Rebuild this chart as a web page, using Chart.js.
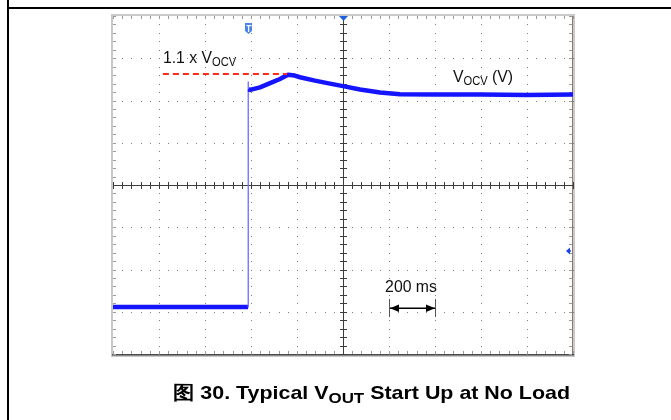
<!DOCTYPE html>
<html><head><meta charset="utf-8">
<script src="https://cdn.jsdelivr.net/npm/chart.js@4/dist/chart.umd.min.js"></script>
<style>
html,body{margin:0;padding:0;background:#fff;}
#wrap{position:relative;width:671px;height:420px;overflow:hidden;background:#fff;}
#c{position:absolute;left:0;top:0;}
.hl{position:absolute;left:7px;top:7px;width:664px;height:2px;background:#000;}
.vl{position:absolute;left:7px;top:0;width:2px;height:420px;background:#000;}
#title{position:absolute;left:173px;top:380px;white-space:nowrap;font:bold 19px "Liberation Sans",Arial,sans-serif;color:#000;transform-origin:0 0;}
#title .sub{font-size:15px;position:relative;top:4px;}
</style></head>
<body><div id="wrap">
<canvas id="c" width="671" height="420"></canvas>
<div class="hl"></div><div class="vl"></div>
<div id="title">图 30. Typical V<span class="sub">OUT</span> Start Up at No Load</div>
</div>
<script>
// time in ms (200 ms/div, trigger at centre), level in screen divisions
const timeMs   = [-1000, -413, -413, -411, -404, -361, -317, -274, -239, -210, -187, -122, -57, 0, 74, 161, 248, 400, 600, 800, 1000];
const voutDiv  = [-2.89, -2.89, 2.44, 2.27, 2.25, 2.31, 2.41, 2.51, 2.61, 2.59, 2.55, 2.47, 2.40, 2.34, 2.26, 2.19, 2.15, 2.14, 2.14, 2.13, 2.14];
const refTimeMs = [-783, -243];
const refDiv    = [2.63, 2.63];
const xTicksMs  = [-1000, -800, -600, -400, -200, 0, 200, 400, 600, 800, 1000];
const yTicksDiv = [-4, -3, -2, -1, 0, 1, 2, 3, 4];
const scaleBarMs = [200, 400];
const labelMain1 = "1.1 x V", labelSub1 = "OCV";
const labelMain2 = "V", labelSub2 = "OCV", labelTail2 = " (V)";
const labelScale = "200 ms";

const trace = timeMs.map((t, i) => ({x: t, y: voutDiv[i]}));
const ref = refTimeMs.map((t, i) => ({x: t, y: refDiv[i]}));

const graticule = {
  id: 'graticule',
  beforeDatasetsDraw(chart) {
    const {ctx, chartArea: a, scales: {x, y}} = chart;
    ctx.save();
    ctx.fillStyle = '#c9c9c9';
    ctx.fillRect(a.left - 2, a.top - 2, a.right - a.left + 4, a.bottom - a.top + 5);
    ctx.fillStyle = '#fff';
    ctx.fillRect(a.left, a.top, a.right - a.left, a.bottom - a.top);
    ctx.fillStyle = '#4a4a4a';
    ctx.fillRect(a.left - 1, Math.round(a.bottom), a.right - a.left + 2, 1.5);
    ctx.fillStyle = '#8a7a70';
    ctx.fillRect(Math.round(a.right) - 1, a.top, 1, a.bottom - a.top);

    const minorX = [], minorY = [];
    for (let i = 0; i < xTicksMs.length - 1; i++) for (let k = 0; k < 5; k++) minorX.push(xTicksMs[i] + (xTicksMs[i+1] - xTicksMs[i]) * k / 5);
    minorX.push(xTicksMs[xTicksMs.length - 1]);
    for (let i = 0; i < yTicksDiv.length - 1; i++) for (let k = 0; k < 5; k++) minorY.push(yTicksDiv[i] + (yTicksDiv[i+1] - yTicksDiv[i]) * k / 5);
    minorY.push(yTicksDiv[yTicksDiv.length - 1]);

    ctx.fillStyle = '#7d7d7d';
    xTicksMs.slice(1, -1).forEach(t => {
      if (t === 0) return;
      const px = Math.round(x.getPixelForValue(t));
      minorY.forEach(v => ctx.fillRect(px, Math.round(y.getPixelForValue(v)), 1, 1));
    });
    yTicksDiv.slice(1, -1).forEach(v => {
      if (v === 0) return;
      const py = Math.round(y.getPixelForValue(v));
      minorX.forEach(t => ctx.fillRect(Math.round(x.getPixelForValue(t)), py, 1, 1));
    });

    ctx.fillStyle = '#9a9a9a';
    minorX.forEach(t => {
      const px = Math.round(x.getPixelForValue(t));
      ctx.fillRect(px, a.top, 1, 3);
      ctx.fillRect(px, a.bottom - 3, 1, 3);
    });
    minorY.forEach(v => {
      const py = Math.round(y.getPixelForValue(v));
      ctx.fillRect(a.left, py, 3, 1);
      ctx.fillRect(a.right - 4, py, 3, 1);
    });

    const cx = Math.round(x.getPixelForValue(0));
    const cy = Math.round(y.getPixelForValue(0));
    ctx.fillStyle = '#3c3c3c';
    ctx.fillRect(cx, a.top, 1, a.bottom - a.top);
    ctx.fillRect(a.left, cy, a.right - a.left, 1);
    minorY.forEach(v => ctx.fillRect(cx - 3, Math.round(y.getPixelForValue(v)), 7, 1));
    minorX.forEach(t => ctx.fillRect(Math.round(x.getPixelForValue(t)), cy - 3, 1, 7));
    ctx.restore();
  },
  afterDatasetsDraw(chart) {
    const {ctx, chartArea: a, scales: {x, y}} = chart;
    ctx.save();
    const font = s => s + 'px "Liberation Sans", Arial, sans-serif';
    ctx.fillStyle = '#111';
    ctx.textBaseline = 'alphabetic';
    const sx = 0.93;
    const txt = (s, px, py, size) => {
      ctx.save(); ctx.translate(px, py); ctx.scale(sx, 1);
      ctx.font = font(size); ctx.fillText(s, 0, 0);
      const w = ctx.measureText(s).width * sx; ctx.restore(); return w;
    };
    let lx = x.getPixelForValue(-783), ly = y.getPixelForValue(2.89);
    lx += txt(labelMain1, lx, ly, 17);
    txt(labelSub1, lx, ly + 3, 12);
    lx = x.getPixelForValue(478); ly = y.getPixelForValue(2.44);
    lx += txt(labelMain2, lx, ly, 17);
    lx += txt(labelSub2, lx, ly + 3, 12);
    txt(labelTail2, lx, ly, 17);
    lx = x.getPixelForValue(183); ly = y.getPixelForValue(-2.53);
    txt(labelScale, lx, ly, 17);

    const x1 = Math.round(x.getPixelForValue(scaleBarMs[0])), x2 = Math.round(x.getPixelForValue(scaleBarMs[1]));
    const ay = Math.round(y.getPixelForValue(-2.91));
    ctx.fillStyle = '#555';
    ctx.fillRect(x1, ay - 9, 1, 18);
    ctx.fillRect(x2, ay - 9, 1, 18);
    ctx.fillStyle = '#000';
    ctx.fillRect(x1 + 1, ay - 0.5, x2 - x1 - 1, 1.5);
    ctx.beginPath(); ctx.moveTo(x1 + 1, ay + 0.25); ctx.lineTo(x1 + 10, ay - 3.5); ctx.lineTo(x1 + 10, ay + 4); ctx.closePath(); ctx.fill();
    ctx.beginPath(); ctx.moveTo(x2, ay + 0.25); ctx.lineTo(x2 - 9, ay - 3.5); ctx.lineTo(x2 - 9, ay + 4); ctx.closePath(); ctx.fill();

    const cx = x.getPixelForValue(0);
    ctx.fillStyle = '#1f5fd8';
    ctx.beginPath(); ctx.moveTo(cx - 4, a.top); ctx.lineTo(cx + 5, a.top); ctx.lineTo(cx + 0.5, a.top + 5); ctx.closePath(); ctx.fill();
    const tx = Math.round(x.getPixelForValue(-413));
    ctx.fillStyle = '#4a86e8';
    ctx.beginPath();
    ctx.moveTo(tx - 3, a.top + 7); ctx.lineTo(tx + 4, a.top + 7); ctx.lineTo(tx + 4, a.top + 15);
    ctx.lineTo(tx + 0.5, a.top + 18); ctx.lineTo(tx - 3, a.top + 15); ctx.closePath(); ctx.fill();
    ctx.fillStyle = '#fff';
    ctx.fillRect(tx - 1.5, a.top + 9, 5, 1.2);
    ctx.fillRect(tx, a.top + 9, 1.2, 7);
    const gy = y.getPixelForValue(-1.56);
    ctx.fillStyle = '#1f3fe8';
    ctx.beginPath(); ctx.moveTo(a.right - 7, gy); ctx.lineTo(a.right - 3, gy - 3.5); ctx.lineTo(a.right - 3, gy + 3.5); ctx.closePath(); ctx.fill();
    ctx.fillRect(a.right - 4, gy - 0.7, 2, 1.4);
    ctx.restore();
  }
};

new Chart(document.getElementById('c'), {
  type: 'line',
  data: {
    datasets: [
      {
        data: ref, borderColor: '#ff2a1a', borderWidth: 2, borderDash: [6, 4],
        pointRadius: 0, order: 1
      },
      {
        data: trace, borderColor: '#1414ff', borderWidth: 4.5, pointRadius: 0, tension: 0,
        borderJoinStyle: 'round', order: 2,
        segment: {
          borderWidth: c => (c.p0DataIndex === 1 || c.p0DataIndex === 2) ? 1.3 : undefined,
          borderColor: c => (c.p0DataIndex === 1 || c.p0DataIndex === 2) ? '#6c6cff' : undefined
        }
      }
    ]
  },
  options: {
    responsive: false, animation: false, devicePixelRatio: 1,
    layout: {padding: {left: 113, right: 98, top: 16, bottom: 66}},
    plugins: {legend: {display: false}, tooltip: {enabled: false}, title: {display: false}},
    scales: {
      x: {type: 'linear', min: -1000, max: 1000, display: false},
      y: {type: 'linear', min: -4, max: 4, display: false}
    }
  },
  plugins: [graticule]
});
// stretch title horizontally to the reference width
(function () {
  const t = document.getElementById('title');
  const w = t.getBoundingClientRect().width;
  t.style.transform = 'scaleX(' + (397 / w).toFixed(3) + ')';
})();
</script>
</body></html>
